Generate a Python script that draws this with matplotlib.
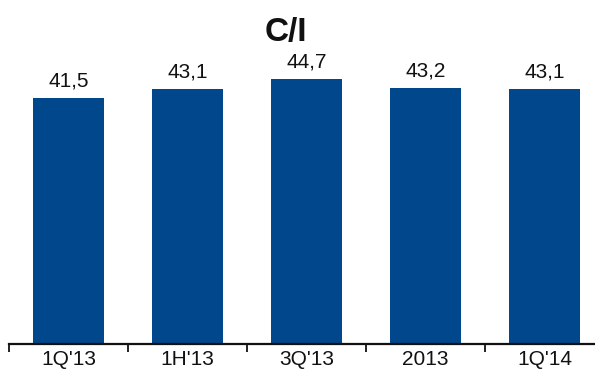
import numpy as np
import matplotlib.pyplot as plt
from matplotlib.ticker import FixedLocator

periods = ["1Q'13", "1H'13", "3Q'13", "2013", "1Q'14"]
ci_ratio = [41.5, 43.1, 44.7, 43.2, 43.1]

plt.rcParams['font.family'] = ['Liberation Sans', 'DejaVu Sans']

fig = plt.figure(figsize=(5.95, 3.73), dpi=100)
ax = fig.add_axes([9 / 595, 29 / 373, 1.0, 344 / 373])

x = np.arange(len(periods))
bars = ax.bar(x, ci_ratio, width=0.59, color='#01478C')

# value labels with comma decimals
for xi, v in zip(x, ci_ratio):
    ax.annotate(f"{v:.1f}".replace('.', ','), (xi, v), xytext=(0, 5.5),
                textcoords='offset points', ha='center', va='bottom',
                fontsize=15, color='#111111')

ax.set_xlim(-0.5, len(periods) - 0.5)
ax.set_ylim(0, 58.1)
ax.set_xticks(x)
ax.set_xticklabels(periods, fontsize=15, color='#111111')
ax.xaxis.set_minor_locator(FixedLocator(np.arange(-0.5, len(periods), 1.0)))
ax.tick_params(axis='x', which='major', length=0, pad=4)
ax.tick_params(axis='x', which='minor', length=5.5, width=1.3, color='#111111')
ax.set_yticks([])
for side in ['top', 'right', 'left']:
    ax.spines[side].set_visible(False)
ax.spines['bottom'].set_linewidth(1.6)
ax.spines['bottom'].set_color('#111111')

fig.text(286 / 595, 1 - 41 / 373, "C/I", ha='center', va='baseline',
         fontsize=24, fontweight='bold', color='#111111')

fig.savefig('out.png', dpi=100)
